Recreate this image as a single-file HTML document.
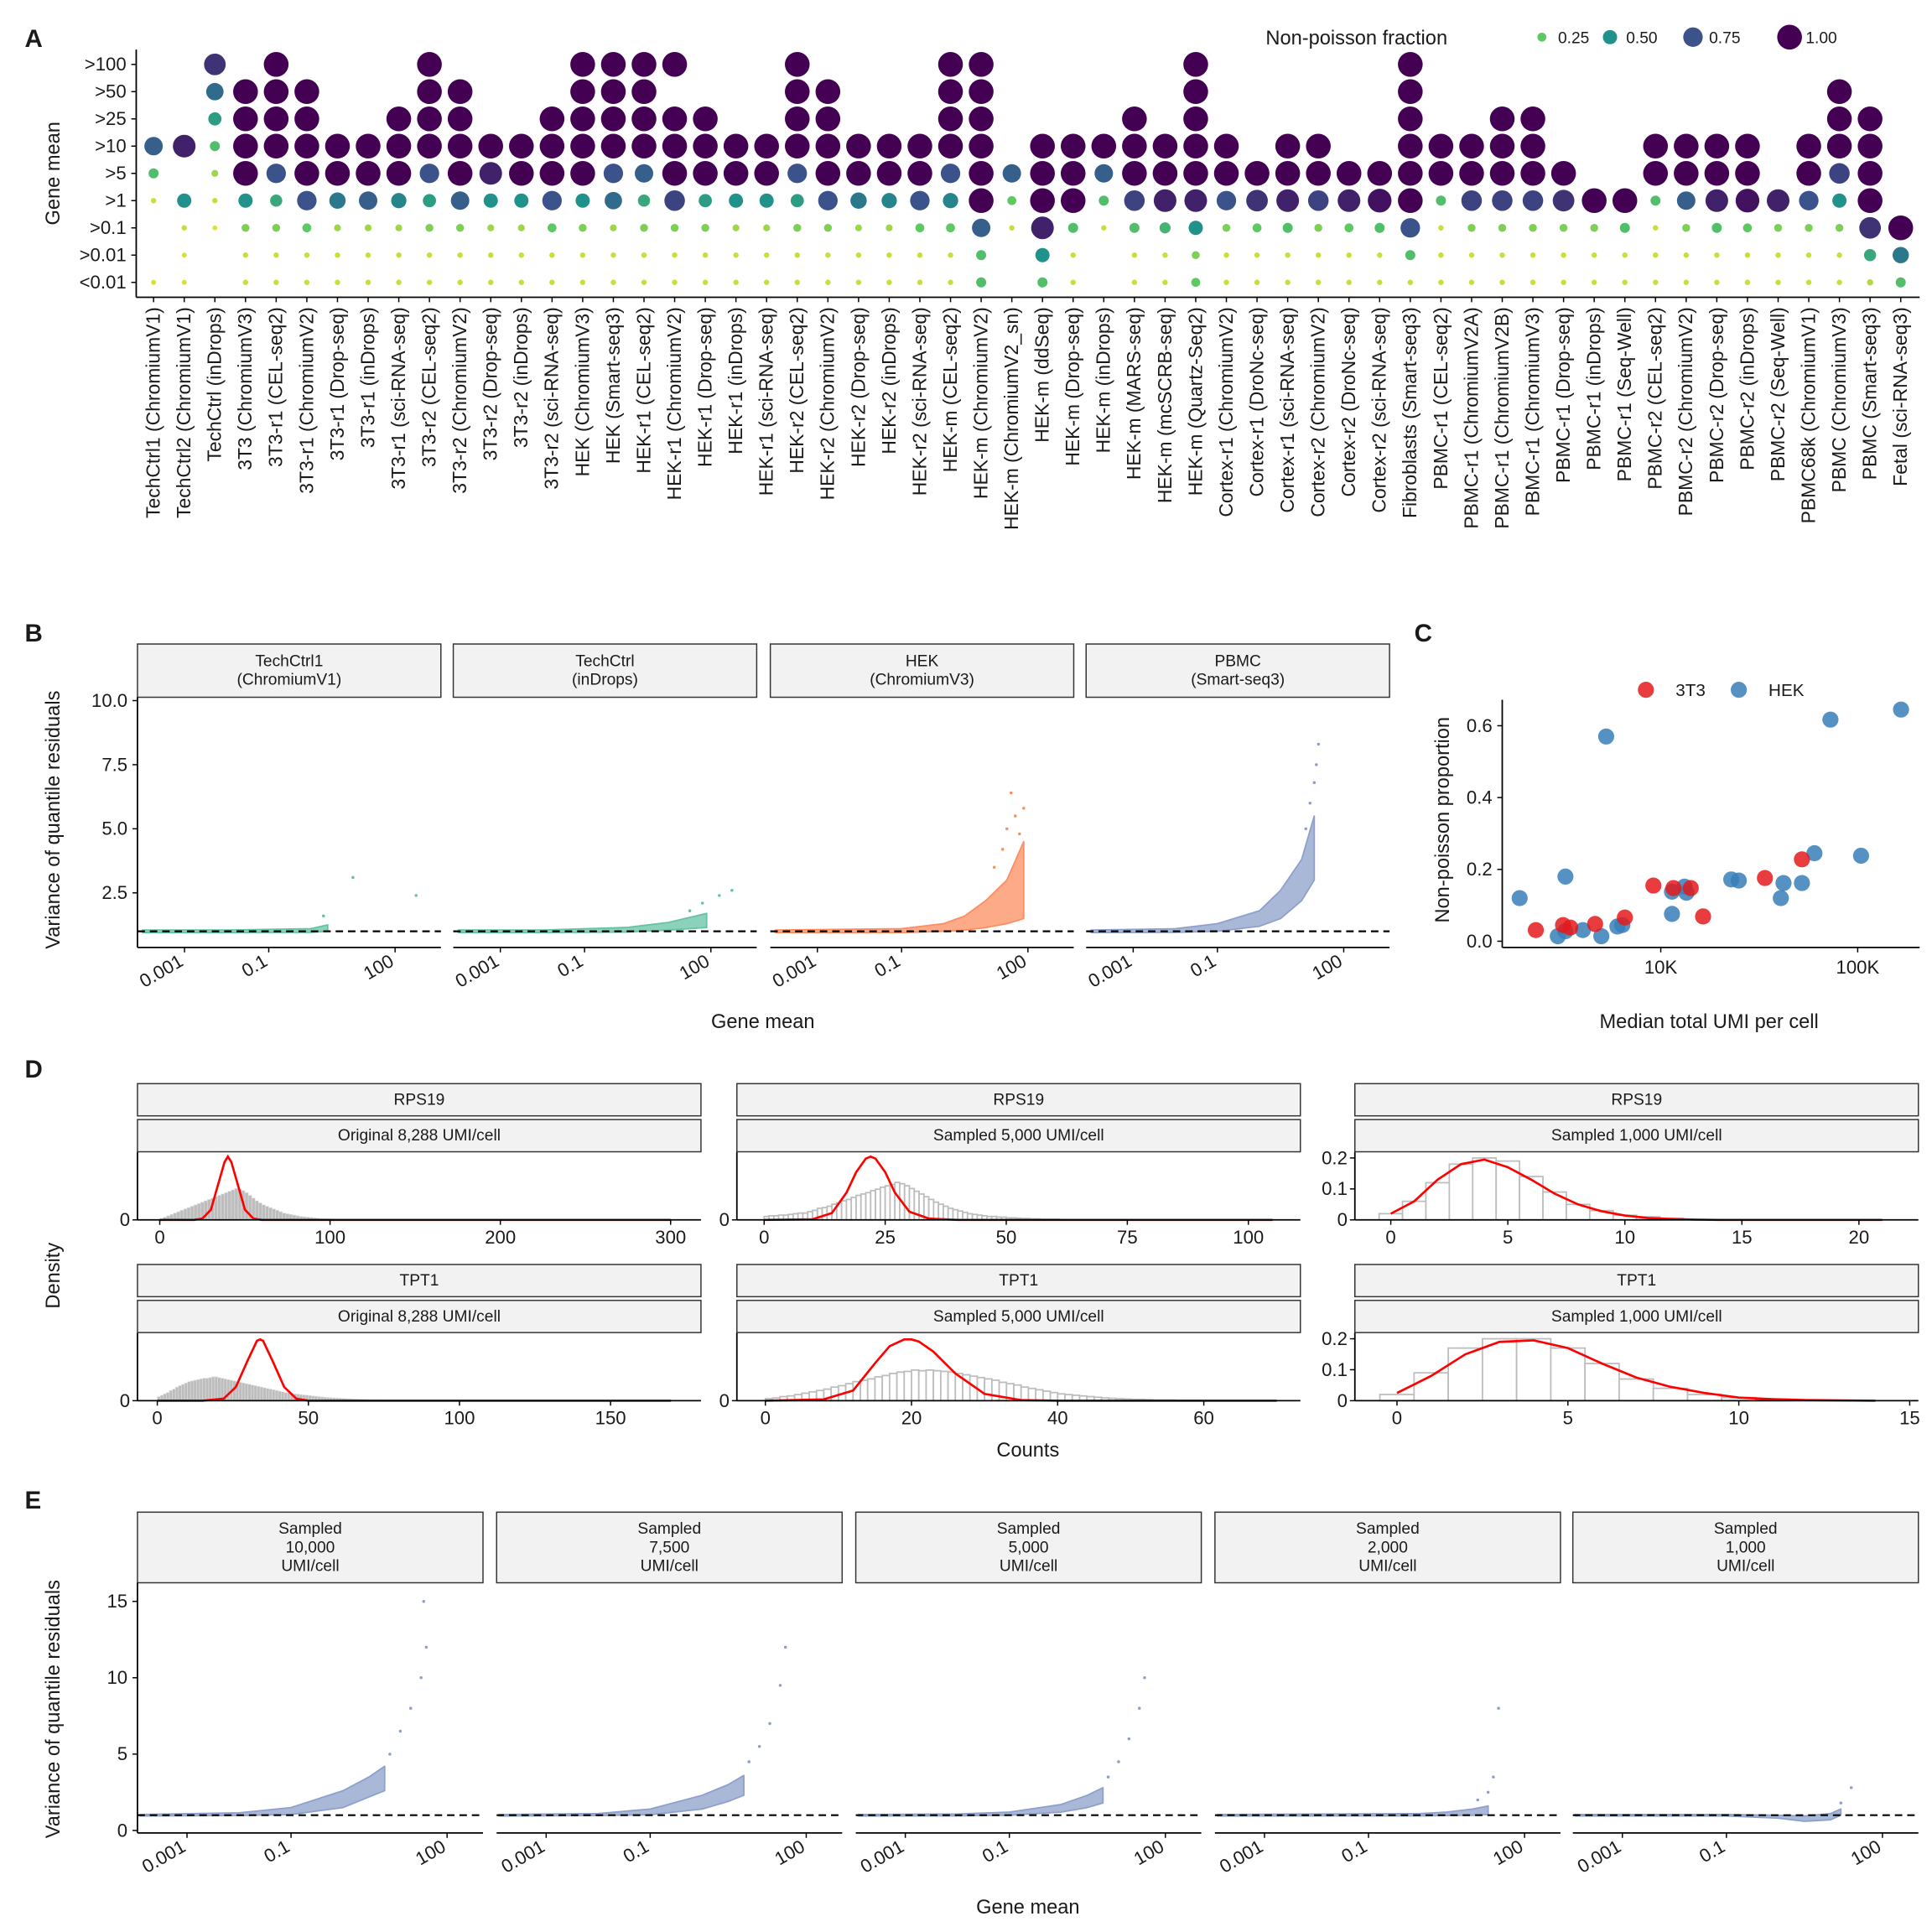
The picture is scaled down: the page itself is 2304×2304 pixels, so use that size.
<!DOCTYPE html>
<html><head><meta charset="utf-8"><style>
html,body{margin:0;padding:0;background:#fff}
svg{display:block}
text{font-family:"Liberation Sans",sans-serif;fill:#1a1a1a}
</style></head><body>
<svg id="fig" xmlns="http://www.w3.org/2000/svg" width="2304" height="2304" viewBox="0 0 1560 1560"></svg>
<script>
// ---------- Panel A data ----------
const aRows = [">100",">50",">25",">10",">5",">1",">0.1",">0.01","<0.01"];
const aCols = ["TechCtrl1 (ChromiumV1)","TechCtrl2 (ChromiumV1)","TechCtrl (inDrops)","3T3 (ChromiumV3)","3T3-r1 (CEL-seq2)","3T3-r1 (ChromiumV2)","3T3-r1 (Drop-seq)","3T3-r1 (inDrops)","3T3-r1 (sci-RNA-seq)","3T3-r2 (CEL-seq2)","3T3-r2 (ChromiumV2)","3T3-r2 (Drop-seq)","3T3-r2 (inDrops)","3T3-r2 (sci-RNA-seq)","HEK (ChromiumV3)","HEK (Smart-seq3)","HEK-r1 (CEL-seq2)","HEK-r1 (ChromiumV2)","HEK-r1 (Drop-seq)","HEK-r1 (inDrops)","HEK-r1 (sci-RNA-seq)","HEK-r2 (CEL-seq2)","HEK-r2 (ChromiumV2)","HEK-r2 (Drop-seq)","HEK-r2 (inDrops)","HEK-r2 (sci-RNA-seq)","HEK-m (CEL-seq2)","HEK-m (ChromiumV2)","HEK-m (ChromiumV2_sn)","HEK-m (ddSeq)","HEK-m (Drop-seq)","HEK-m (inDrops)","HEK-m (MARS-seq)","HEK-m (mcSCRB-seq)","HEK-m (Quartz-Seq2)","Cortex-r1 (ChromiumV2)","Cortex-r1 (DroNc-seq)","Cortex-r1 (sci-RNA-seq)","Cortex-r2 (ChromiumV2)","Cortex-r2 (DroNc-seq)","Cortex-r2 (sci-RNA-seq)","Fibroblasts (Smart-seq3)","PBMC-r1 (CEL-seq2)","PBMC-r1 (ChromiumV2A)","PBMC-r1 (ChromiumV2B)","PBMC-r1 (ChromiumV3)","PBMC-r1 (Drop-seq)","PBMC-r1 (inDrops)","PBMC-r1 (Seq-Well)","PBMC-r2 (CEL-seq2)","PBMC-r2 (ChromiumV2)","PBMC-r2 (Drop-seq)","PBMC-r2 (inDrops)","PBMC-r2 (Seq-Well)","PBMC68k (ChromiumV1)","PBMC (ChromiumV3)","PBMC (Smart-seq3)","Fetal (sci-RNA-seq3)"];
const aVals = [
[0,0,0,.7,.3,.08,0,0,.06],[0,0,0,.9,0,.5,.08,.06,.06],[.85,.65,.45,.3,.15,.08,.05,0,0],
[0,1,1,1,1,.5,.2,.08,.08],[1,1,1,1,.75,.4,.2,.08,.08],[0,1,1,1,1,.75,.25,.08,.08],
[0,0,0,1,1,.6,.15,.08,.08],[0,0,0,1,1,.7,.15,.08,.08],[0,0,1,1,1,.55,.15,.08,.08],
[1,1,1,1,.75,.45,.2,.08,.08],[0,1,1,1,1,.7,.2,.08,.08],[0,0,0,1,.9,.5,.15,.08,.08],
[0,0,0,1,1,.5,.15,.08,.08],[0,0,1,1,1,.75,.25,.08,.08],[1,1,1,1,1,.5,.2,.08,.08],
[1,1,1,1,.75,.65,.15,.08,.08],[1,1,1,1,.7,.4,.2,.08,.08],[1,0,1,1,1,.8,.2,.08,.08],
[0,0,1,1,1,.45,.2,.08,.08],[0,0,0,1,1,.5,.15,.08,.08],[0,0,0,1,1,.5,.15,.08,.08],
[1,1,1,1,.75,.45,.2,.08,.08],[0,1,1,1,1,.75,.2,.08,.08],[0,0,0,1,1,.6,.15,.08,.08],
[0,0,0,1,1,.55,.15,.08,.08],[0,0,0,1,1,.75,.25,.08,.08],[1,1,1,1,.75,.55,.25,.08,.08],
[1,1,1,1,1,1,.7,.3,.3],[0,0,0,0,.7,.25,.08,0,0],[0,0,0,1,1,1,.9,.5,.3],
[0,0,0,1,1,1,.3,.08,.08],[0,0,0,1,.7,.3,.08,0,0],[0,0,1,1,1,.8,.3,.08,.08],
[0,0,0,1,1,.9,.35,.08,.08],[1,1,1,1,1,.9,.5,.2,.25],[0,0,0,1,1,.75,.2,.08,.08],
[0,0,0,0,1,.85,.25,.08,.08],[0,0,0,1,1,.9,.3,.08,.08],[0,0,0,1,1,.8,.2,.08,.08],
[0,0,0,0,1,.9,.25,.08,.08],[0,0,0,0,1,.95,.3,.08,.08],[1,1,1,1,1,1,.75,.3,.08],
[0,0,0,1,1,.3,.08,.08,.08],[0,0,0,1,1,.8,.2,.08,.08],[0,0,1,1,1,.8,.2,.08,.08],
[0,0,1,1,1,.8,.2,.08,.08],[0,0,0,0,1,.85,.2,.08,.08],[0,0,0,0,0,1,.2,.08,.08],
[0,0,0,0,0,1,.3,.08,.08],[0,0,0,1,1,.3,.08,.08,.08],[0,0,0,1,1,.7,.2,.08,.08],
[0,0,0,1,1,.9,.3,.08,.08],[0,0,0,1,1,.95,.25,.08,.08],[0,0,0,0,0,.9,.2,.08,.08],
[0,0,0,1,1,.75,.2,.08,.08],[0,1,1,1,.8,.5,.2,.08,.08],[0,0,1,1,1,1,.85,.4,.12],
[0,0,0,0,0,0,1,.6,.3]];
const aLegend = [0.25,0.50,0.75,1.00];

// ---------- Panel B data ----------
const bTitles = [["TechCtrl1","(ChromiumV1)"],["TechCtrl","(inDrops)"],["HEK","(ChromiumV3)"],["PBMC","(Smart-seq3)"]];
const bColors = ["#66c2a5","#66c2a5","#fc8d62","#8da0cb"];
const bLogX = [[-4,-2,0,0.4],[-4,-2,0,1,1.9],[-4,-1,0,0.5,1,1.5,1.9],[-4,-2,-1,0,0.5,1,1.3]];
const bLo = [[.95,.95,.96,1.0],[.95,.95,.97,1.05,1.15],[.95,.95,1.0,1.05,1.15,1.3,1.5],[.95,.96,1.0,1.2,1.5,2.2,3]];
const bHi = [[1.05,1.05,1.1,1.25],[1.05,1.05,1.15,1.35,1.7],[1.05,1.1,1.3,1.6,2.2,3,4.5],[1.05,1.1,1.3,1.8,2.6,3.8,5.5]];
const bOutX = [[1,2.5,0.3],[1.5,1.8,2.2,2.5],[1.2,1.4,1.5,1.6,1.7,1.8,1.9],[1.1,1.2,1.3,1.35,1.4]];
const bOutY = [[3.1,2.4,1.6],[1.8,2.1,2.4,2.6],[3.5,4.2,5,6.4,5.5,4.8,5.8],[5,6,6.8,7.5,8.3]];
const bYTicks = [0,2.5,5,7.5,10];
const bYTickLabels = ["","2.5","5.0","7.5","10.0"];
const logTicks = [-3,-1,2];
const logTickLabels = ["0.001","0.1","100"];

// ---------- Panel C data ----------
const cHekX = [1920,3280,5280,3000,3280,4020,4990,6020,6380,11400,11400,13200,13500,22800,24900,42000,40700,52100,60300,72700,104000,166000];
const cHekY = [.12,.18,.57,.014,.028,.031,.014,.041,.045,.138,.076,.152,.135,.172,.169,.162,.12,.162,.245,.617,.238,.645];
const c3t3X = [2320,3190,3470,4640,6570,9170,11600,14200,16400,33800,52100];
const c3t3Y = [.031,.045,.038,.048,.066,.155,.148,.148,.069,.176,.228];
const cYTicks = [0,.2,.4,.6];
const cXTicks = [10000,100000];
const cXTickLabels = ["10K","100K"];

// ---------- Panel D data ----------
const hist11 = [.02,.04,.06,.08,.1,.12,.14,.16,.18,.2,.22,.24,.26,.28,.3,.32,.34,.36,.38,.4,.42,.44,.46,.45,.43,.4,.36,.32,.28,.25,.22,.2,.18,.16,.14,.12,.1,.09,.08,.07,.06,.05,.045,.04,.035,.03,.025,.02,.02,.018,.015,.012,.01,.01,.008,.007,.006,.005,.004,.003];
const curve11X = [0,20,25,30,34,38,40,42,46,50,55,60,80,300];
const curve11Y = [0,0,.02,.15,.5,.85,.93,.85,.5,.15,.02,0,0,0];
const hist12 = [.05,.06,.06,.07,.07,.08,.09,.1,.1,.12,.14,.17,.18,.2,.23,.25,.28,.3,.33,.36,.38,.4,.43,.45,.48,.5,.52,.55,.53,.5,.46,.42,.38,.34,.3,.26,.23,.2,.17,.15,.13,.11,.09,.08,.07,.06,.05,.05,.04,.04,.03,.03,.025,.02,.02,.015,.015,.01,.01,.01,.01];
const curve12X = [0,10,14,17,19,21,22,23,25,27,30,34,40,105];
const curve12Y = [0,.01,.1,.4,.7,.9,.93,.9,.7,.4,.12,.02,0,0];
const hist13 = [.02,.06,.12,.18,.2,.19,.14,.09,.05,.03,.015,.01,.005];
const curve13X = [0,1,2,3,4,5,6,7,8,9,10,11,12,13,14,21];
const curve13Y = [.02,.06,.13,.18,.195,.17,.13,.085,.05,.028,.014,.006,.003,.001,0,0];
const hist21 = [.06,.08,.1,.12,.15,.17,.2,.22,.24,.26,.28,.29,.3,.31,.32,.33,.33,.34,.35,.35,.34,.33,.32,.31,.3,.29,.28,.27,.26,.25,.24,.23,.22,.21,.2,.19,.18,.17,.16,.15,.14,.13,.12,.115,.11,.1,.095,.09,.085,.08,.075,.07,.065,.06,.055,.05,.048,.045,.042,.04,.037,.035,.032,.03,.028,.026,.024,.022,.02,.018,.016,.015,.014,.013,.012,.011,.01,.01,.009,.008];
const curve21X = [0,15,22,26,30,33,34,35,38,42,46,50,60,170];
const curve21Y = [0,0,.03,.2,.6,.88,.9,.88,.6,.2,.03,0,0,0];
const hist22 = [.03,.04,.06,.07,.09,.11,.13,.15,.17,.2,.22,.25,.28,.3,.32,.35,.37,.4,.42,.43,.45,.44,.45,.44,.43,.42,.4,.38,.36,.34,.32,.3,.27,.25,.23,.2,.18,.16,.14,.12,.1,.09,.08,.07,.06,.05,.04,.035,.03,.025,.02,.02,.015,.01,.01,.01,.005,.005,.005,.005];
const curve22X = [0,8,12,15,17,19,20,21,23,26,30,35,40,70];
const curve22Y = [0,.02,.15,.55,.8,.9,.9,.87,.72,.4,.1,.01,0,0];
const hist23 = [.02,.09,.17,.2,.2,.17,.12,.07,.04,.02,.01,.005];
const curve23X = [0,1,2,3,4,5,6,7,8,9,10,11,12,13,14];
const curve23Y = [.025,.08,.15,.19,.195,.17,.12,.075,.045,.025,.01,.005,.002,.001,0];

// ---------- Panel E data ----------
const eTitles = ["10,000","7,500","5,000","2,000","1,000"];
const eLogX = [[-4,-2,-1,0,0.5,0.8],[-4,-2,-1,0,0.5,0.8],[-4,-2,-1,0,0.5,0.8],[-4,0,0.5,1,1.3],[-4,-1,0,0.5,1,1.2]];
const eLo = [[.95,.97,1.05,1.5,2.2,2.6],[.95,.97,1.03,1.4,1.9,2.3],[.95,.96,1.0,1.2,1.5,1.8],[.95,.96,.97,1.0,1.05],[.95,.95,.8,.6,.7,1]];
const eHi = [[1.05,1.15,1.5,2.6,3.5,4.2],[1.05,1.1,1.4,2.3,3.0,3.6],[1.05,1.08,1.2,1.7,2.3,2.8],[1.05,1.1,1.2,1.4,1.6],[1.05,1.05,1.0,.95,1.1,1.4]];
const eOutX = [[0.9,1.1,1.3,1.5,1.6,1.55],[0.9,1.1,1.3,1.5,1.6],[0.9,1.1,1.3,1.5,1.6],[1.1,1.3,1.4,1.5],[1.2,1.4]];
const eOutY = [[5,6.5,8,10,12,15],[4.5,5.5,7,9.5,12],[3.5,4.5,6,8,10],[2,2.5,3.5,8],[1.8,2.8]];
const eYTicks = [0,5,10,15];

// ---------- drawing helpers ----------
const NS = "http://www.w3.org/2000/svg";
const svg = document.getElementById("fig");
function mk(tag, attrs, parent){const e=document.createElementNS(NS,tag);for(const k in attrs)e.setAttribute(k,attrs[k]);(parent||svg).appendChild(e);return e;}
function txt(x,y,s,size,anchor,extra,parent){const t=mk("text",Object.assign({x:x,y:y,"font-size":size,"text-anchor":anchor||"middle"},extra||{}),parent);t.textContent=s;return t;}
function viridis(v){const st=[[253,231,37],[94,201,98],[33,145,140],[59,82,139],[68,1,84]];const p=Math.max(0,Math.min(1,v))*4;const i=Math.min(3,Math.floor(p));const f=p-i;const c=st[i].map((a,k)=>Math.round(a+(st[i+1][k]-a)*f));return "rgb("+c.join(",")+")";}
function rad(v){return 1.5+8.5*v;}

[["A",20,38],["B",20,518],["C",1142,518],["D",20,870],["E",20,1218]].forEach(p=>{const t=txt(p[1],p[2],p[0],20,"start",{"font-weight":"bold"});});

// ---------- Panel A ----------
const gA = mk("g",{});


const aRowY = i=>52+i*22;
const aColX = j=>124+j*24.75;
mk("line",{x1:110,y1:40,x2:110,y2:240,stroke:"#000","stroke-width":1.2},gA);
mk("line",{x1:110,y1:240,x2:1550,y2:240,stroke:"#000","stroke-width":1.2},gA);
aRows.forEach((r,i)=>{const t=txt(102,aRowY(i)+5,r,15,"end",{},gA);mk("line",{x1:106,x2:110,y1:aRowY(i),y2:aRowY(i),stroke:"#000"},gA);});
const ayt = txt(48,140,"Gene mean",16,"middle",{transform:"rotate(-90 48 140)"},gA);


aCols.forEach((c,j)=>{
  const x=aColX(j);
  mk("line",{x1:x,x2:x,y1:240,y2:244,stroke:"#000"},gA);
  const t=txt(x+5,248,c,15.5,"end",{transform:"rotate(-90 "+(x+5)+" 248)"},gA);
  
  
  aVals[j].forEach((v,i)=>{ if(!v) return;
    const d=mk("circle",{cx:x,cy:aRowY(i),r:rad(v),fill:viridis(v)},gA);
    
    
  });
});
const lt = txt(1022,36,"Non-poisson fraction",16,"start");


const lgX=[1245,1300,1367,1445];
aLegend.forEach((v,k)=>{
  const c=mk("circle",{cx:lgX[k],cy:30,r:rad(v),fill:viridis(v)});
  
  
  const t=txt(lgX[k]+13,35,v.toFixed(2),13,"start");
  
  
});

// ---------- scatter-facet helper (B, E) ----------
function strip(x1,x2,y1,y2,lines,size,name){
  const r=mk("rect",{x:x1,y:y1,width:x2-x1,height:y2-y1,fill:"#f2f2f2",stroke:"#333","stroke-width":1});
  
  
  const n=lines.length, mid=(y1+y2)/2;
  lines.forEach((l,i)=>{const t=txt((x1+x2)/2,mid+4+(i-(n-1)/2)*15,l,size,"middle");});
}
function facet(cfg){
  const {left,right,axisY,xs,lo,hi,ox,oy,color,yOf,perDec,off,name}=cfg;
  const xOf=l=>left+off+(l+3)*perDec;
  const g=mk("g",{});
  
  
  let pts=[];
  xs.forEach((l,i)=>pts.push(Math.max(left+2,xOf(l)).toFixed(1)+","+yOf(hi[i]).toFixed(1)));
  for(let i=xs.length-1;i>=0;i--)pts.push(Math.max(left+2,xOf(xs[i])).toFixed(1)+","+yOf(lo[i]).toFixed(1));
  const band=mk("polygon",{points:pts.join(" "),fill:color,"fill-opacity":0.75,stroke:color,"stroke-width":1.2,"stroke-linejoin":"round"},g);
  
  
  ox.forEach((l,i)=>{const c=mk("circle",{cx:xOf(l),cy:yOf(oy[i]),r:1.2,fill:color},g);});
  const dl=mk("line",{x1:left,x2:right,y1:yOf(1),y2:yOf(1),stroke:"#000","stroke-dasharray":"6,4","stroke-width":1.5},g);
  
  
  mk("line",{x1:left,x2:right,y1:axisY,y2:axisY,stroke:"#000","stroke-width":1.2},g);
  logTicks.forEach((l,i)=>{const x=xOf(l);mk("line",{x1:x,x2:x,y1:axisY,y2:axisY+4,stroke:"#000"},g);
    const t=txt(x,axisY+14,logTickLabels[i],15,"end",{transform:"rotate(-30 "+x+" "+(axisY+14)+")"},g);});
}

// ---------- Panel B ----------
const bYOf=v=>772.7-v*20.7;
const bLeft=[111,366,622,877];
bTitles.forEach((t,k)=>{
  strip(bLeft[k],bLeft[k]+245,520,563,t,13,'b-strip');
  facet({left:bLeft[k],right:bLeft[k]+245,axisY:765,xs:bLogX[k],lo:bLo[k],hi:bHi[k],ox:bOutX[k],oy:bOutY[k],color:bColors[k],yOf:bYOf,perDec:34,off:38,name:'b-facet-'+(k+1)});
});
mk("line",{x1:111,x2:111,y1:563,y2:765,stroke:"#000","stroke-width":1.2});
bYTicks.forEach((v,i)=>{if(!bYTickLabels[i])return;mk("line",{x1:107,x2:111,y1:bYOf(v),y2:bYOf(v),stroke:"#000"});const t=txt(103,bYOf(v)+5,bYTickLabels[i],15,"end");});
let t1=txt(48,662,"Variance of quantile residuals",16,"middle",{transform:"rotate(-90 48 662)"});


t1=txt(616,830,"Gene mean",16,"middle");



// ---------- Panel C ----------
const cX=v=>1341+(Math.log10(v)-4)*159;
const cY=v=>760-v*290;
mk("line",{x1:1213,x2:1213,y1:565,y2:765,stroke:"#000","stroke-width":1.2});
mk("line",{x1:1213,x2:1550,y1:765,y2:765,stroke:"#000","stroke-width":1.2});
cYTicks.forEach(v=>{mk("line",{x1:1209,x2:1213,y1:cY(v),y2:cY(v),stroke:"#000"});const t=txt(1205,cY(v)+5,v.toFixed(1),15,"end");});
cXTicks.forEach((v,i)=>{mk("line",{x1:cX(v),x2:cX(v),y1:765,y2:769,stroke:"#000"});const t=txt(cX(v),786,cXTickLabels[i],15,"middle");});
cHekX.forEach((v,i)=>{const c=mk("circle",{cx:cX(v),cy:cY(cHekY[i]),r:6.5,fill:"#377eb8","fill-opacity":0.85});});
c3t3X.forEach((v,i)=>{const c=mk("circle",{cx:cX(v),cy:cY(c3t3Y[i]),r:6.5,fill:"#e41a1c","fill-opacity":0.85});});
[["3T3","#e41a1c",1329],["HEK","#377eb8",1404]].forEach(l=>{const c=mk("circle",{cx:l[2],cy:557,r:6.5,fill:l[1],"fill-opacity":0.85});const t=txt(l[2]+24,562,l[0],14,"start");});
t1=txt(1170,662,"Non-poisson proportion",16,"middle",{transform:"rotate(-90 1170 662)"});


t1=txt(1380,830,"Median total UMI per cell",16,"middle");



// ---------- Panel D ----------
function dPanel(p){
  const g=mk("g",{});
  
  
  strip(p.l,p.r,p.sy,p.sy+26,[p.gene],13,'d-gene-strip');
  strip(p.l,p.r,p.sy+29,p.sy+55,[p.sub],13,'d-sample-strip');
  const top=p.sy+55, bot=top+55;
  const xOf=v=>p.x0+v*p.px;
  const yOf=v=>bot-v/p.ymax*55;
  p.hist.forEach((h,i)=>{const xa=xOf(p.hs+i*p.bw);const r=mk("rect",{x:xa,y:yOf(h),width:p.bw*p.px,height:bot-yOf(h),fill:p.filled?"#bdbdbd":"#fff",stroke:p.filled?"#e0e0e0":"#bdbdbd","stroke-width":p.filled?0.4:1.2},g);});
  const d=p.cx.map((x,i)=>(i?"L":"M")+xOf(x).toFixed(1)+","+yOf(p.cy[i]).toFixed(1)).join(" ");
  const c=mk("path",{d:d,fill:"none",stroke:"#ff0000","stroke-width":1.8},g);
  
  
  mk("line",{x1:p.l,x2:p.r,y1:bot,y2:bot,stroke:"#000","stroke-width":1.2},g);
  mk("line",{x1:p.l,x2:p.l,y1:top,y2:bot,stroke:"#000","stroke-width":1.2},g);
  p.xt.forEach(v=>{mk("line",{x1:xOf(v),x2:xOf(v),y1:bot,y2:bot+4,stroke:"#000"},g);const t=txt(xOf(v),bot+19,String(v),15,"middle",{},g);});
  p.yt.forEach(v=>{mk("line",{x1:p.l-4,x2:p.l,y1:yOf(v),y2:yOf(v),stroke:"#000"},g);const t=txt(p.l-6,yOf(v)+5,v===0?"0":(p.ymax<1?v.toFixed(1):String(v)),15,"end",{},g);});
}
dPanel({name:'d-rps19-original',l:111,r:566,sy:875,gene:"RPS19",sub:"Original  8,288 UMI/cell",x0:129,px:1.375,hist:hist11,hs:0,bw:2,filled:true,cx:curve11X,cy:curve11Y,ymax:1,xt:[0,100,200,300],yt:[0]});
dPanel({name:'d-rps19-5000',l:595,r:1050,sy:875,gene:"RPS19",sub:"Sampled 5,000 UMI/cell",x0:617,px:3.91,hist:hist12,hs:0,bw:1,filled:false,cx:curve12X,cy:curve12Y,ymax:1,xt:[0,25,50,75,100],yt:[0]});
dPanel({name:'d-rps19-1000',l:1094,r:1549,sy:875,gene:"RPS19",sub:"Sampled 1,000 UMI/cell",x0:1123,px:18.9,hist:hist13,hs:-0.5,bw:1,filled:false,cx:curve13X,cy:curve13Y,ymax:0.22,xt:[0,5,10,15,20],yt:[0,0.1,0.2]});
dPanel({name:'d-tpt1-original',l:111,r:566,sy:1021,gene:"TPT1",sub:"Original  8,288 UMI/cell",x0:127,px:2.44,hist:hist21,hs:0,bw:1,filled:true,cx:curve21X,cy:curve21Y,ymax:1,xt:[0,50,100,150],yt:[0]});
dPanel({name:'d-tpt1-5000',l:595,r:1050,sy:1021,gene:"TPT1",sub:"Sampled 5,000 UMI/cell",x0:618,px:5.9,hist:hist22,hs:0,bw:1,filled:false,cx:curve22X,cy:curve22Y,ymax:1,xt:[0,20,40,60],yt:[0]});
dPanel({name:'d-tpt1-1000',l:1094,r:1549,sy:1021,gene:"TPT1",sub:"Sampled 1,000 UMI/cell",x0:1128,px:27.6,hist:hist23,hs:-0.5,bw:1,filled:false,cx:curve23X,cy:curve23Y,ymax:0.22,xt:[0,5,10,15],yt:[0,0.1,0.2]});
t1=txt(48,1030,"Density",16,"middle",{transform:"rotate(-90 48 1030)"});


t1=txt(830,1176,"Counts",16,"middle");



// ---------- Panel E ----------
const eYOf=v=>1478-v*12.33;
const eLeft=[111,401,691,981,1270];
eTitles.forEach((t,k)=>{
  strip(eLeft[k],eLeft[k]+279,1221,1278,["Sampled",t,"UMI/cell"],13,'e-strip');
  facet({left:eLeft[k],right:eLeft[k]+279,axisY:1480,xs:eLogX[k],lo:eLo[k],hi:eHi[k],ox:eOutX[k],oy:eOutY[k],color:"#8da0cb",yOf:eYOf,perDec:42,off:40,name:'e-facet-'+(k+1)});
});
mk("line",{x1:111,x2:111,y1:1278,y2:1480,stroke:"#000","stroke-width":1.2});
eYTicks.forEach(v=>{mk("line",{x1:107,x2:111,y1:eYOf(v),y2:eYOf(v),stroke:"#000"});const t=txt(103,eYOf(v)+5,String(v),15,"end");});
t1=txt(48,1380,"Variance of quantile residuals",16,"middle",{transform:"rotate(-90 48 1380)"});


t1=txt(830,1545,"Gene mean",16,"middle");


</script>
</body></html>
